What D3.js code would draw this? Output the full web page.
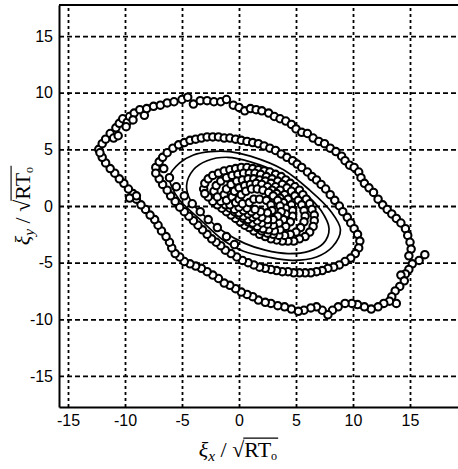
<!DOCTYPE html>
<html>
<head>
<meta charset="utf-8">
<script src="https://cdn.jsdelivr.net/npm/d3@7"></script>
<style>
  body { margin: 0; background: #fff; }
</style>
</head>
<body>
<svg></svg>
<script>

// tick values
var xTicks = [-15, -10, -5, 0, 5, 10, 15];
var yTicks = [-15, -10, -5, 0, 5, 10, 15];

// outer ring of markers
var ring1 = [
  [-12.3,5.0],[-12.0,5.5],[-11.7,5.9],[-11.3,6.4],[-11.0,6.0],[-10.8,6.9],[-10.5,7.3],[-10.2,7.7],[-9.8,7.4],[-9.6,7.9],
  [-9.2,8.2],[-8.7,8.5],[-8.3,8.0],[-8.1,8.6],[-7.5,8.8],[-6.9,8.9],[-6.3,9.1],[-5.7,9.2],[-5.0,9.4],[-4.5,9.6],
  [-4.0,9.0],[-3.4,9.3],[-2.8,9.3],[-2.2,9.2],[-1.6,9.2],[-1.1,9.4],[-0.5,8.9],[0.0,8.7],[0.5,8.4],[1.0,8.6],
  [1.5,8.5],[2.0,8.4],[2.6,8.2],[3.1,7.9],[3.6,7.7],[4.1,7.5],[4.6,7.2],[5.0,6.8],[5.5,6.5],[6.0,6.4],
  [6.5,6.0],[7.0,5.7],[7.5,5.5],[8.0,5.1],[8.5,4.8],[9.0,4.4],[9.3,4.0],[9.7,3.6],[10.1,3.4],[10.5,3.0],
  [10.7,2.5],[11.0,2.0],[11.4,1.6],[11.8,1.2],[12.2,0.6],[12.6,0.1],[13.0,-0.3],[13.4,-0.7],[13.8,-1.1],[14.2,-1.5],
  [14.6,-2.0],[14.8,-2.6],[15.0,-3.2],[15.1,-3.8],[14.9,-4.4],[16.3,-4.3],[15.8,-4.8],[15.2,-5.1],[14.9,-5.6],[14.6,-6.0],
  [14.2,-6.1],[14.5,-6.6],[14.1,-7.1],[13.7,-7.5],[13.4,-8.0],[13.8,-8.6],[13.2,-8.4],[12.7,-8.6],[12.2,-8.9],[11.6,-9.1],
  [11.0,-8.9],[10.4,-8.7],[9.9,-8.6],[9.3,-8.6],[8.7,-8.9],[8.2,-9.2],[7.8,-9.6],[7.3,-9.2],[6.8,-8.9],[6.3,-9.0],
  [5.7,-9.2],[5.2,-9.3],[4.6,-9.1],[4.0,-8.9],[3.4,-8.8],[2.8,-8.6],[2.3,-8.5],[1.7,-8.3],[1.2,-8.0],[0.7,-7.8],
  [0.2,-7.6],[-0.3,-7.3],[-0.8,-7.0],[-1.3,-6.8],[-1.8,-6.4],[-2.3,-6.1],[-2.8,-5.8],[-3.3,-5.5],[-3.8,-5.3],[-4.3,-5.1],
  [-4.8,-4.9],[-5.2,-4.5],[-5.6,-4.2],[-5.9,-3.7],[-6.1,-3.2],[-6.4,-2.7],[-6.8,-2.2],[-7.1,-1.7],[-7.4,-1.2],[-7.8,-0.8],
  [-8.2,-0.3],[-8.6,0.1],[-9.0,0.6],[-9.3,1.1],[-9.7,1.5],[-10.1,2.0],[-10.5,2.4],[-10.9,2.9],[-11.3,3.3],[-11.7,3.8],
  [-12.0,4.3],[-12.2,4.7],[-10.6,6.2],[-9.9,7.0],[-9.3,7.6],[-9.0,0.9],[-9.6,0.7]
];

// second ring of markers
var ring2 = [
  [-7.3,3.4],[-7.0,3.9],[-6.7,4.3],[-6.3,4.7],[-5.8,5.1],[-5.3,5.4],[-4.8,5.6],[-4.3,5.8],[-3.8,5.9],[-3.3,6.0],
  [-2.8,6.1],[-2.3,6.1],[-1.8,6.1],[-1.3,6.0],[-0.8,6.0],[-0.3,5.9],[0.2,5.8],[0.7,5.7],[1.2,5.6],[1.7,5.5],
  [2.2,5.3],[2.7,5.1],[3.2,4.9],[3.7,4.6],[4.2,4.3],[4.7,4.0],[5.1,3.7],[5.5,3.4],[6.0,3.0],[6.4,2.6],
  [6.8,2.3],[7.2,1.9],[7.6,1.5],[8.0,1.0],[8.4,0.5],[8.8,0.0],[9.1,-0.5],[9.5,-1.0],[9.8,-1.5],[10.1,-2.0],
  [10.4,-2.5],[10.6,-3.1],[10.5,-3.7],[10.2,-4.2],[9.8,-4.6],[9.3,-4.9],[8.8,-5.2],[8.3,-5.4],[7.8,-5.5],[7.3,-5.7],
  [6.8,-5.8],[6.3,-5.9],[5.8,-5.9],[5.3,-5.9],[4.8,-5.9],[4.3,-5.8],[3.8,-5.8],[3.3,-5.7],[2.8,-5.6],[2.3,-5.5],
  [1.8,-5.4],[1.3,-5.2],[0.8,-5.0],[0.3,-4.8],[-0.2,-4.5],[-0.7,-4.2],[-1.2,-3.9],[-1.6,-3.5],[-2.0,-3.2],[-2.4,-2.9],
  [-2.8,-2.5],[-3.2,-2.1],[-3.6,-1.7],[-4.0,-1.3],[-4.4,-0.9],[-4.8,-0.5],[-5.2,-0.1],[-5.6,0.4],[-6.0,0.9],[-6.3,1.4],
  [-6.7,1.9],[-7.0,2.4],[-7.3,2.9],
  [-6.6,3.3],[-6.1,2.5],[-5.5,1.7],[-4.8,0.9],[-4.1,0.2],[-3.4,-0.5],[-2.7,-1.2],[-1.9,-1.9],[-1.1,-2.7],[-0.4,-3.4]
];

// inner rings of markers
var ring3 = [
  [-3.1,1.5],[-3.0,2.0],[-2.7,2.4],[-2.3,2.7],[-1.8,2.9],[-1.3,3.1],[-0.8,3.2],[-0.3,3.3],[0.2,3.4],[0.7,3.4],
  [1.2,3.3],[1.7,3.2],[2.2,3.1],[2.7,3.0],[3.2,2.8],[3.7,2.6],[4.1,2.3],[4.5,2.0],[4.9,1.7],[5.3,1.4],
  [5.6,1.0],[5.9,0.6],[6.2,0.2],[6.4,-0.3],[6.6,-0.8],[6.6,-1.3],[6.5,-1.8],[6.2,-2.3],[5.8,-2.7],[5.3,-2.9],
  [4.8,-3.1],[4.3,-3.1],[3.8,-3.1],[3.3,-3.0],[2.8,-2.9],[2.3,-2.7],[1.8,-2.5],[1.3,-2.2],[0.9,-1.9],[0.5,-1.7],
  [0.1,-1.4],[-0.3,-1.1],[-0.7,-0.8],[-1.1,-0.5],[-1.5,-0.2],[-1.9,0.1],[-2.3,0.4],[-2.7,0.8],[-3.0,1.1]
];
var ring3b = [
  [-2.2,1.3],[-2.0,1.8],[-1.6,2.2],[-1.1,2.5],[-0.6,2.7],[-0.1,2.8],[0.4,2.9],[0.9,2.9],[1.4,2.9],[1.9,2.8],
  [2.4,2.6],[2.9,2.4],[3.4,2.2],[3.8,1.9],[4.2,1.6],[4.6,1.3],[4.9,0.9],[5.2,0.5],[5.5,0.1],[5.7,-0.4],
  [5.8,-0.9],[5.7,-1.4],[5.4,-1.9],[5.0,-2.3],[4.5,-2.5],[4.0,-2.6],[3.5,-2.6],[3.0,-2.5],[2.5,-2.4],[2.0,-2.2],
  [1.6,-1.9],[1.2,-1.6],[0.8,-1.4],[0.4,-1.1],[0.0,-0.8],[-0.4,-0.5],[-0.8,-0.2],[-1.2,0.1],[-1.6,0.4],[-1.9,0.8]
];
var ring4 = [
  [-1.3,1.0],[-1.1,1.5],[-0.7,1.9],[-0.2,2.2],[0.3,2.3],[0.8,2.4],[1.3,2.4],[1.8,2.3],[2.3,2.2],[2.8,2.0],
  [3.2,1.7],[3.6,1.4],[4.0,1.0],[4.3,0.6],[4.6,0.1],[4.7,-0.4],[4.7,-0.9],[4.5,-1.4],[4.1,-1.8],[3.6,-2.1],
  [3.1,-2.2],[2.6,-2.1],[2.1,-2.0],[1.6,-1.8],[1.2,-1.5],[0.8,-1.2],[0.4,-0.9],[0.0,-0.6],[-0.4,-0.3],[-0.8,0.1],
  [-1.1,0.5]
];
var ring4b = [
  [-0.6,0.8],[-0.4,1.3],[0.0,1.6],[0.5,1.8],[1.0,1.9],[1.5,2.0],[2.0,1.9],[2.5,1.7],[2.9,1.4],[3.3,1.1],
  [3.6,0.7],[3.9,0.3],[4.1,-0.2],[4.1,-0.7],[3.9,-1.2],[3.5,-1.5],[3.0,-1.7],[2.5,-1.6],[2.0,-1.5],[1.6,-1.3],
  [1.2,-1.0],[0.8,-0.7],[0.4,-0.4],[0.0,-0.1],[-0.3,0.3]
];
var ring5 = [
  [0.0,0.6],[0.2,1.0],[0.6,1.3],[1.1,1.5],[1.6,1.5],[2.1,1.4],[2.6,1.2],[3.0,0.9],[3.4,0.5],[3.6,0.0],
  [3.7,-0.5],[3.4,-0.9],[3.0,-1.2],[2.5,-1.2],[2.0,-1.0],[1.5,-0.8],[1.1,-0.5],[0.7,-0.2],[0.3,0.2]
];
var ring6 = [
  [0.9,0.3],[1.3,0.6],[1.8,0.6],[2.4,0.5],[2.8,0.1],[2.9,-0.4],[2.5,-0.6],[1.9,-0.5],[1.4,-0.3]
];

// solid contour lines
var solid1 = [
  [-6.1,2.6],[-5.2,3.8],[-4.0,4.5],[-2.5,4.8],[-0.8,4.8],[1.0,4.4],[3.9,3.2],[6.2,1.4],[8.0,-0.4],[8.9,-2.1],
  [8.2,-3.6],[6.8,-4.5],[4.7,-4.8],[2.5,-4.5],[0.4,-4.0],[-1.4,-3.0],[-3.4,-1.2],[-5.2,0.5],[-5.9,1.7]
];
var solid2 = [
  [-4.6,1.8],[-4.0,3.2],[-2.8,4.0],[-1.0,4.3],[1.0,3.9],[3.5,2.9],[5.6,1.3],[7.2,-0.4],[7.9,-2.0],[7.4,-3.3],
  [6.1,-4.0],[4.3,-4.2],[2.3,-3.9],[0.5,-3.3],[-1.3,-2.3],[-3.0,-0.9],[-4.2,0.4]
];

var W = 458, H = 469;
var mLeft = 59, mTop = 5, mRight = 458, mBottom = 407;

var svg = d3.select("svg")
  .attr("width", W)
  .attr("height", H)
  .style("background-color", "white");

var x = d3.scaleLinear()
  .domain([-15.79, 19.21])
  .range([mLeft, mRight]);
var y = d3.scaleLinear()
  .domain([-17.74, 17.74])
  .range([mBottom, mTop]);

// axes + grid
var xAxis = svg.append("g")
  .attr("transform", "translate(0," + mBottom + ")")
  .call(d3.axisBottom(x).tickValues(xTicks).tickSizeInner(-(mBottom - mTop)).tickSizeOuter(0).tickPadding(8)
    .tickFormat(d3.format("d")));
var yAxis = svg.append("g")
  .attr("transform", "translate(" + mLeft + ",0)")
  .call(d3.axisLeft(y).tickValues(yTicks).tickSizeInner(-(mRight - mLeft)).tickSizeOuter(0).tickPadding(6)
    .tickFormat(d3.format("d")));

xAxis.selectAll(".tick line")
  .attr("stroke", "#000")
  .attr("stroke-width", 1.8)
  .attr("stroke-dasharray", "3,3");
yAxis.selectAll(".tick line")
  .attr("stroke", "#000")
  .attr("stroke-width", 1.8)
  .attr("stroke-dasharray", "5,3");
svg.selectAll(".domain")
  .attr("stroke", "#000")
  .attr("stroke-width", 2);
svg.selectAll(".tick text")
  .attr("font-family", "Liberation Sans, Arial, sans-serif")
  .attr("font-size", 16)
  .attr("fill", "#000")
  .text(function(d){ return d < 0 ? "-" + Math.abs(d) : d; });

// top border
svg.append("line")
  .attr("x1", mLeft).attr("x2", mRight)
  .attr("y1", mTop).attr("y2", mTop)
  .attr("stroke", "#000")
  .attr("stroke-width", 2);

// solid contours
var line = d3.line()
  .x(function(d){ return x(d[0]); })
  .y(function(d){ return y(d[1]); })
  .curve(d3.curveCatmullRomClosed.alpha(0.5));

svg.selectAll("path.contour")
  .data([solid1, solid2])
  .join("path")
  .attr("class", "contour")
  .attr("d", line)
  .attr("fill", "none")
  .attr("stroke", "#000")
  .attr("stroke-width", 1.7);

// marker rings
var rings = [ring1, ring2, ring3, ring3b, ring4, ring4b, ring5, ring6];
var pts = [];
for (var i = 0; i < rings.length; i++){
  for (var j = 0; j < rings[i].length; j++){
    pts.push(rings[i][j]);
  }
}

svg.append("g")
  .selectAll("circle")
  .data(pts)
  .join("circle")
  .attr("cx", function(d){ return x(d[0]); })
  .attr("cy", function(d){ return y(d[1]); })
  .attr("r", 3.7)
  .attr("fill", "white")
  .attr("stroke", "#000")
  .attr("stroke-width", 2.1);

// axis titles:  xi_sub / sqrt(RT0)
function mathTitle(g, sub, fs){
  var fam = "Liberation Serif, Times New Roman, serif";
  var t1 = g.append("text")
    .attr("font-family", fam)
    .attr("font-size", fs)
    .attr("fill", "#000");
  t1.append("tspan").attr("font-style", "italic").text("ξ");
  t1.append("tspan").attr("font-style", "italic").attr("font-size", fs * 0.7).attr("dy", fs * 0.2).text(sub);
  t1.append("tspan").attr("dy", -fs * 0.2).text(" / √");
  var w1 = t1.node().getComputedTextLength();
  var t2 = g.append("text")
    .attr("x", w1)
    .attr("font-family", fam)
    .attr("font-size", fs)
    .attr("fill", "#000");
  t2.append("tspan").text("RT");
  t2.append("tspan").attr("font-size", fs * 0.55).attr("dy", fs * 0.12).text("o");
  var w2 = t2.node().getComputedTextLength();
  g.append("line")
    .attr("x1", w1 - 1).attr("x2", w1 + w2 + 1)
    .attr("y1", -fs * 0.86).attr("y2", -fs * 0.86)
    .attr("stroke", "#000")
    .attr("stroke-width", 1.1);
  return w1 + w2;
}

var gx = svg.append("g");
var wx = mathTitle(gx, "x", 22);
gx.attr("transform", "translate(" + (238 - wx / 2) + ",457)");

var gy = svg.append("g");
var wy = mathTitle(gy, "y", 22);
gy.attr("transform", "translate(30," + (206 + wy / 2) + ") rotate(-90)");

</script>
</body>
</html>
